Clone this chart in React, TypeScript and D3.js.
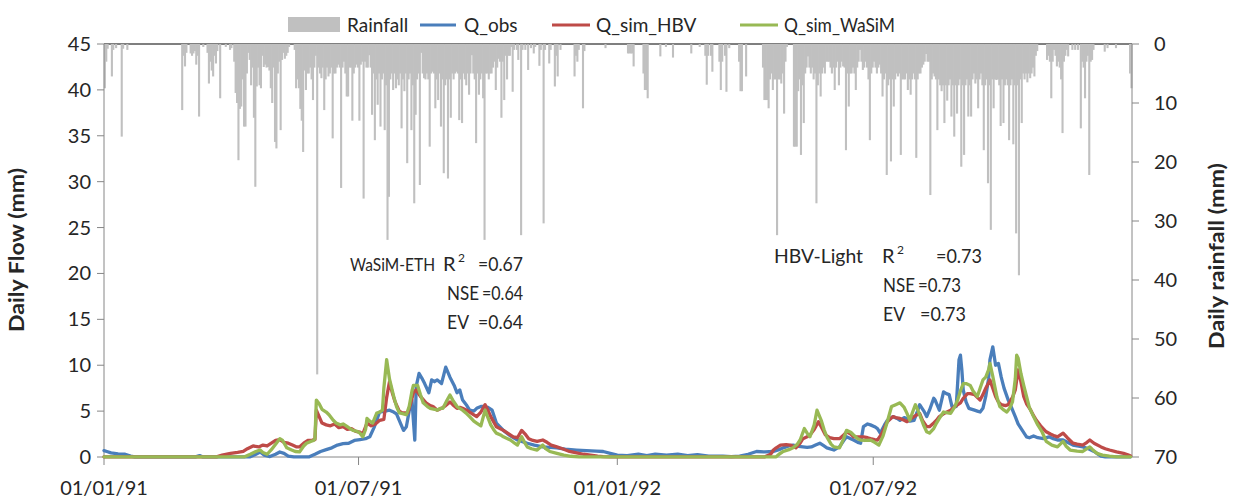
import React from 'react';
import * as d3 from 'd3';

const xTickDays = [0, 181, 365, 547];
const xTickLabels = ['01/01/91', '01/07/91', '01/01/92', '01/07/92'];
const flowTicks = [0, 5, 10, 15, 20, 25, 30, 35, 40, 45];
const rainTicks = [0, 10, 20, 30, 40, 50, 60, 70];

// [day since 01/01/91, mm]
const rainfall: [number, number][] = [
  [0,7.5],[1,3],[2,0.8],[5,5.5],[6,1],[8,0.7],[12,15.7],[13,0.8],[16,1],
  [55,11.2],[56,2],[57,3.8],[58,1.5],[61,1.6],[62,2],[63,1.6],[64,1.2],[65,3.5],[66,2],[67,12.3],[70,0.5],[73,1.5],[74,6.7],[75,3],[76,4.5],[77,5.5],[78,2],[79,3.3],[80,1.2],[82,9.2],[86,0.5],[89,1],[90,0.7],
  [92,3],[93,8.3],[94,10],[95,19.7],[96,11],[97,10.6],[98,6],[99,14],[100,14],[101,5],[102,1.5],[103,2.7],[104,7],[105,4],[106,12.5],[107,24.2],[108,7.2],[109,4],[110,7],[111,7.5],[112,2],[113,3.9],[114,3.5],[115,4],[116,3.9],[117,4.5],[118,7.5],[119,10],[120,4],[121,16.6],[122,17.7],[123,5],[124,3],[125,14.6],[126,2.7],[127,1.5],[128,2.5],[129,2],[130,1.5],[131,0.5],
  [135,1],[136,7.5],[137,6],[138,7.5],[139,11],[140,13],[141,18.3],[142,4.5],[143,7.8],[144,5],[145,5],[146,4],[147,6],[148,9.5],[149,4],[150,2],[151,56],[152,4],[153,5],[154,5.8],[155,4],[156,11.2],[157,6],[158,4],[159,5.5],[160,5],[161,4],[162,16],[163,5],[164,5],[165,4],[166,3.5],[167,4],[168,24.4],[169,4],[170,3],[171,5],[172,8.9],[173,8.9],[174,4],[175,4],[176,13],[177,5],[178,4],[179,3.5],[180,4],[181,13],[182,3.5],[183,3],[184,26.2],[185,3],[186,4],[187,4],[188,1.9],[189,4],
  [190,12],[191,5],[192,16.3],[193,6],[194,10.3],[195,5],[196,14],[197,6],[198,5],[199,14.6],[200,7],[201,33.2],[202,25.9],[203,6],[204,5],[205,7.8],[206,5],[207,7.5],[208,6],[209,7],[210,5],[211,14.3],[212,6],[213,8],[214,5],[215,20.2],[216,6],[217,5],[218,14.6],[219,7],[220,27],[221,12],[222,6],[223,5],[224,23.9],[225,1.5],[226,5],[227,5.8],[228,6],[229,5],[230,6],[231,17.4],[232,5],[233,4.7],[234,5],[235,10.9],[236,6],[237,9.5],[238,5],[239,14],[240,6],[241,21.9],[242,7],[243,6],[244,22.8],[245,6],[246,12.5],[247,5],[248,6],[249,5],[250,4.7],[251,5],[252,12.9],[253,6],[254,13.4],[255,5],[256,6],[257,7],[258,5],[259,8.6],[260,5],[261,1.9],[262,5],[263,6],[264,16.8],[265,5],[266,8.6],[267,6],[268,5],[269,9.2],[270,33.2],[271,5],[272,5],[273,6],[274,5],[275,5],[276,4],[277,3],[278,7.8],[279,4],[280,2.5],[281,3],[282,12.5],[283,3],[284,9.5],[285,2],[286,6],[287,2],[288,2],[289,0.5],[290,8.1],[291,1],[293,1],[294,2.7],[296,32.4],[297,1],[299,1],[301,4.4],[303,0.7],[305,1.6],[306,0.5],[309,3.7],[310,1],[312,30.4],[313,1],[316,3.3],[317,1],[320,7.2],[321,2],[322,5.5],[324,1],[334,5.5],[335,2],[336,3],[337,1],[340,10.9],[341,1.2],[356,0.7],
  [372,1.6],[373,1.6],[374,1.6],[375,1.6],[376,3.8],[383,5],[384,7.8],[385,7.8],[386,9.2],[395,2.1],[399,0.5],[404,2.3],[417,1.6],[423,0.5],[427,2],[428,6.9],[429,2],[431,2],[432,4.7],[437,3],[438,7.8],[439,3],[441,2],[442,8.1],[444,0.7],[451,3],[452,8],[453,8],[456,5.5],
  [468,4],[469,9.5],[470,9.5],[471,9.5],[472,10.9],[473,6],[474,5],[475,7.8],[476,6],[477,6],[478,32.4],[479,6],[480,6],[481,6.7],[482,5],[483,11.8],[484,3],[485,0.5],
  [490,17.4],[491,17.4],[492,17.4],[493,8],[494,6],[495,18.8],[496,7],[497,13.4],[498,5],[499,4],[500,2.1],[501,4],[502,5],[503,4],[504,6],[505,5],[506,27],[507,7],[508,5],[509,8.9],[510,5],[511,4],[512,5],[513,3],[514,3],[515,3],[516,4],[517,5],[518,4],[519,7.8],[520,4],[521,3],[522,7],[523,4],[524,3],[525,3.8],[526,4],[527,18],[528,5],[529,10.6],[530,5],[531,5],[532,4],[533,5],[534,7.8],[535,4],[536,3],[537,1],[538,3],[539,4.4],[540,4],[541,3],[542,4],[543,6],[544,16.3],[545,5],[546,4],[547,3],[548,4],[549,5],[550,4],[551,3.5],[552,5],[553,8.9],[554,6],[555,5],[556,22.2],[557,7],[558,6],[559,19.9],[560,6],[561,10.6],[562,6],[563,5],[564,5.5],[565,5],[566,18.8],[567,6],[568,6],[569,6],[570,5],[571,7.8],[572,6],[573,8.6],[574,6],[575,5],[576,6],[577,19.3],[578,6],[579,5],[580,5],[581,4],[582,3.5],[583,3],[584,1.7],[585,3],[586,3],[587,25.6],[588,6],[589,5],[590,5.5],[591,6],[592,14.6],[593,6],[594,7],[595,8],[596,7],[597,13.4],[598,7],[599,9.6],[600,7],[601,6],[602,12.3],[603,7],[604,15.7],[605,7],[606,11.8],[607,7],[608,6],[609,20.8],[610,7],[611,18.8],[612,7],[613,6],[614,12.3],[615,7],[616,12.3],[617,6],[618,5],[619,6.7],[620,6],[621,10.9],[622,6],[623,5],[624,7],[625,18],[626,7],[627,6],[628,23.6],[629,7],[630,31.5],[631,6],[632,10.9],[633,6],[634,6.1],[635,6],[636,7],[637,13.9],[638,6],[639,13.4],[640,7],[641,6],[642,7],[643,16.3],[644,7],[645,6],[646,17],[647,7],[648,32.1],[649,7],[650,39.2],[651,6],[652,13.4],[653,5],[654,6],[655,5],[656,6.5],[657,5],[658,5.8],[659,5],[660,4],[661,5.5],[662,2],[663,1.2],
  [670,2.7],[671,2],[672,3],[673,9.2],[674,3],[675,1],[676,2],[677,3.8],[678,3],[679,4],[680,6],[681,15.1],[682,3],[683,2],[684,1],[685,2.1],[688,1],[690,1],[692,1],[694,14.3],[695,3],[696,4],[697,9.2],[698,3],[699,2],[700,22.2],[701,3],[702,2.7],[703,1],[711,1.3],[713,0.7],[719,0.7],[729,5],[730,7.5],
];

const qObs: [number, number][] = [
  [0,0.7],[2,0.6],[5,0.45],[10,0.35],[15,0.3],[19,0.1],[22,0.02],[65,0.02],[68,0.15],[70,0.02],[104,0.02],[108,0.3],[111,0.55],[114,0.2],[118,0.05],[122,0.3],[125,0.55],[128,0.4],[131,0.1],[135,0.02],[146,0.02],[150,0.3],[154,0.6],[158,0.8],[162,1.0],[166,1.3],[170,1.45],[174,1.5],[178,1.8],[182,1.9],[186,2.0],[189,2.2],[192,3.2],[196,4.9],[200,5.0],[203,5.1],[206,4.9],[208,4.7],[211,3.6],[213,2.9],[215,3.3],[217,5.0],[219,6.2],[220,4],[221,1.85],[222,7.7],[224,9.1],[226,8.6],[228,8.0],[231,7.0],[233,8.4],[235,8.2],[237,8.4],[240,8.0],[243,9.8],[246,8.7],[249,7.8],[251,7.0],[253,7.3],[255,6.2],[258,5.6],[260,5.1],[263,5.0],[265,5.3],[268,5.5],[270,5.5],[273,5.4],[276,5.1],[279,3.7],[284,2.9],[289,2.3],[294,1.85],[297,1.7],[301,1.5],[306,1.3],[312,1.1],[317,1.05],[322,1.0],[328,0.85],[336,0.76],[343,0.7],[350,0.65],[355,0.6],[360,0.4],[365,0.2],[372,0.15],[380,0.3],[386,0.15],[392,0.3],[400,0.2],[408,0.3],[415,0.15],[422,0.25],[430,0.1],[440,0.1],[446,0.05],[452,0.1],[458,0.3],[464,0.6],[470,0.55],[476,0.6],[480,0.8],[483,1.0],[487,1.2],[490,1.3],[494,1.15],[497,1.1],[500,1.05],[503,1.1],[506,1.3],[509,1.5],[512,1.2],[514,1.0],[519,0.76],[523,1.1],[526,1.8],[528,2.2],[531,2.0],[533,1.85],[536,1.6],[538,1.5],[540,3.3],[543,3.6],[545,3.5],[548,3.3],[550,3.1],[552,2.6],[555,3.5],[557,4.0],[561,4.4],[564,4.2],[566,4.0],[569,4.3],[571,4.2],[573,3.9],[576,4.0],[578,4.8],[580,5.7],[583,5.0],[585,4.4],[587,5.1],[590,6.4],[591,6.2],[594,5.1],[597,7.1],[599,6.9],[601,6.8],[603,5.5],[606,5.5],[607,8],[608,10.6],[609,11.1],[610,9.5],[611,7.3],[613,6.0],[615,5.3],[619,5.1],[621,5.0],[623,4.9],[625,5.3],[627,6.6],[629,8.5],[630,10.6],[632,12.0],[634,10.0],[636,10.2],[638,8.7],[640,7.5],[643,6.2],[645,5.5],[648,4.4],[650,3.6],[653,2.9],[656,2.2],[658,2.1],[661,2.3],[664,2.1],[668,2.0],[672,2.2],[675,2.0],[678,1.85],[682,1.85],[685,1.6],[689,1.3],[692,1.2],[696,1.1],[700,0.9],[704,0.6],[707,0.3],[709,0.1],[712,0.02],[730,0.02],
];

const qHBV: [number, number][] = [
  [0,0.02],[80,0.02],[84,0.2],[90,0.4],[95,0.5],[99,0.6],[102,0.9],[106,1.2],[110,1.1],[113,1.3],[116,1.2],[119,1.5],[122,1.8],[125,1.9],[128,1.6],[131,1.5],[134,1.3],[137,1.1],[139,1.1],[142,1.5],[145,1.8],[148,1.85],[150,1.9],[151,5.1],[153,4.4],[155,3.7],[158,3.5],[161,3.4],[164,3.6],[167,3.2],[170,3.3],[173,3.0],[176,3.1],[179,2.8],[182,2.7],[184,2.5],[187,3.7],[190,3.4],[193,3.6],[196,4.0],[199,4.1],[201,6.5],[203,8.2],[205,7.0],[207,6.0],[210,5.0],[212,4.8],[216,4.8],[218,5.8],[220,7.0],[222,7.3],[225,6.6],[229,5.9],[232,5.6],[234,5.5],[237,5.1],[240,5.3],[243,5.6],[246,6.0],[248,5.7],[251,5.3],[253,5.4],[255,5.3],[258,5.1],[260,4.9],[263,4.6],[265,4.4],[268,4.9],[271,5.7],[273,5.1],[275,4.4],[279,3.3],[284,2.9],[287,2.6],[291,2.2],[294,2.1],[297,2.9],[300,2.4],[302,2.0],[305,1.8],[308,1.7],[312,1.85],[315,1.6],[318,1.3],[322,1.1],[326,0.9],[331,0.6],[336,0.45],[341,0.3],[346,0.2],[351,0.1],[355,0.05],[360,0.02],[470,0.02],[474,0.3],[476,0.76],[478,1.0],[481,1.3],[485,1.35],[488,1.3],[492,1.0],[495,1.5],[497,2.0],[500,2.2],[502,2.4],[505,3.0],[508,3.85],[510,3.3],[513,2.4],[516,2.1],[519,2.0],[523,2.0],[526,2.4],[528,2.75],[531,2.5],[533,2.2],[537,2.2],[540,2.2],[543,2.1],[545,2.0],[548,1.9],[550,1.85],[553,2.5],[557,3.85],[561,4.4],[563,4.3],[566,4.2],[569,4.0],[571,3.85],[573,4.1],[576,4.4],[578,4.6],[580,4.75],[582,4.0],[585,3.3],[587,3.3],[590,3.7],[592,4.0],[594,4.4],[598,4.8],[602,5.1],[605,5.5],[609,5.9],[611,6.4],[614,6.9],[616,6.9],[619,6.8],[621,6.5],[623,6.2],[625,6.8],[627,7.5],[630,8.4],[632,7.5],[634,6.6],[636,6.0],[638,5.7],[641,5.6],[643,5.7],[646,6.5],[648,7.3],[650,9.5],[652,8.2],[654,6.6],[656,5.8],[659,5.1],[661,4.5],[663,4.0],[666,3.4],[670,2.75],[673,2.5],[676,2.3],[678,2.2],[682,2.6],[685,2.1],[689,1.5],[692,1.4],[696,1.3],[699,1.6],[701,1.85],[704,1.5],[709,1.1],[712,0.9],[715,0.76],[720,0.55],[725,0.4],[728,0.25],[730,0.1],
];

const qWaSiM: [number, number][] = [
  [0,0.02],[100,0.02],[104,0.3],[108,0.6],[111,0.76],[113,0.5],[116,0.3],[119,0.8],[122,1.4],[125,2.0],[127,1.8],[130,1.0],[133,0.8],[136,0.6],[139,0.55],[142,1.2],[144,1.5],[147,1.7],[149,1.8],[150,2.0],[151,6.2],[153,5.8],[155,5.2],[158,4.9],[160,4.6],[163,4.0],[165,3.7],[168,3.5],[170,3.6],[173,3.3],[175,3.1],[177,2.9],[180,2.8],[182,2.6],[184,2.2],[186,3.0],[187,4.2],[189,3.9],[191,3.7],[194,4.8],[196,4.9],[198,5.1],[199,7.5],[201,10.6],[203,8.5],[206,6.6],[208,5.5],[210,4.8],[213,4.7],[215,4.6],[217,5.5],[219,7.2],[220,7.8],[223,7.8],[225,6.8],[227,5.9],[230,5.5],[232,5.3],[235,5.2],[237,5.1],[239,5.3],[241,5.3],[244,6.2],[246,6.75],[248,6.2],[251,5.5],[253,5.3],[255,5.1],[258,4.7],[260,4.4],[263,3.9],[265,3.7],[268,3.4],[271,5.1],[273,4.3],[275,3.5],[277,3.0],[279,2.6],[282,2.4],[284,2.2],[287,2.0],[289,1.85],[292,1.5],[294,1.3],[297,2.2],[299,1.6],[301,1.1],[304,0.9],[308,0.76],[312,1.3],[314,0.9],[317,0.6],[322,0.4],[327,0.2],[332,0.08],[338,0.02],[478,0.02],[480,0.3],[483,0.6],[487,0.8],[490,1.0],[493,1.4],[495,1.85],[498,3.1],[500,2.6],[502,2.2],[505,3.5],[507,5.1],[510,4.0],[512,3.0],[514,2.2],[517,1.4],[519,1.1],[523,1.0],[526,2.0],[528,2.9],[531,2.7],[533,2.4],[536,2.0],[538,1.85],[541,1.8],[545,1.85],[548,1.6],[551,1.3],[554,2.3],[557,3.85],[560,5.5],[563,5.7],[566,5.9],[569,5.4],[571,4.75],[573,4.0],[575,4.9],[577,5.7],[579,5.0],[581,4.2],[583,3.4],[585,2.75],[587,2.6],[590,3.1],[592,3.7],[594,4.2],[597,4.9],[600,4.8],[602,4.75],[605,5.5],[607,6.2],[609,7.2],[611,8.0],[613,8.0],[616,7.8],[618,7.2],[621,6.6],[623,7.5],[625,8.4],[627,8.7],[629,9.5],[630,10.2],[632,8.8],[633,8.0],[635,6.5],[637,5.5],[640,5.1],[642,4.9],[644,5.3],[646,6.0],[648,8.5],[649,11.1],[650,10.8],[652,9.1],[654,7.8],[656,6.6],[658,5.4],[661,4.4],[664,3.5],[667,2.75],[670,1.7],[674,1.3],[678,1.1],[680,1.4],[682,1.7],[684,1.2],[687,0.76],[692,0.65],[696,0.6],[699,0.9],[701,1.1],[703,0.8],[706,0.4],[710,0.2],[715,0.1],[720,0.02],[730,0.02],
];

const seriesNames = ['Rainfall', 'Q_obs', 'Q_sim_HBV', 'Q_sim_WaSiM'];
const seriesColors = ['#c0c0c0', '#4a7ebb', '#be4b48', '#98b954'];

const FONT = 'Lato, "Open Sans", sans-serif';
const TXT = '#262626';

export default function App() {
  const W = 1238, H = 501;
  const L = 104, R = 1132, T = 44, B = 457;
  const x = d3.scaleLinear().domain([0, 731]).range([L, R]);
  const yF = d3.scaleLinear().domain([0, 45]).range([B, T]);
  const yR = d3.scaleLinear().domain([0, 70]).range([T, B]);
  const line = d3.line<[number, number]>().x(d => x(d[0])).y(d => yF(d[1])).curve(d3.curveLinear);
  const bw = x(1) - x(0);

  const lines: [[number, number][], string][] = [
    [qObs, seriesColors[1]],
    [qHBV, seriesColors[2]],
    [qWaSiM, seriesColors[3]],
  ];

  return (
    <svg width={W} height={H} style={{ position: 'absolute', left: 0, top: 0, background: '#fff' }} fontFamily={FONT}>
      <rect width={W} height={H} fill="#fff" />
      {/* top zero line of rainfall axis */}
      <line x1={L} x2={R} y1={T} y2={T} stroke="#000" strokeWidth={1.2} />
      {/* rainfall bars */}
      <g fill={seriesColors[0]}>
        {rainfall.map(([d, v]) => (
          <rect key={d} x={x(d) - 0.2} y={yR(0)} width={bw + 0.7} height={yR(v) - yR(0)} />
        ))}
      </g>
      {/* axes */}
      <g stroke="#868686" strokeWidth={1}>
        <line x1={L} x2={L} y1={T} y2={B} />
        <line x1={R} x2={R} y1={T} y2={B} />
        <line x1={L} x2={R} y1={B} y2={B} />
        {flowTicks.map(t => <line key={'fl' + t} x1={L - 7} x2={L} y1={yF(t)} y2={yF(t)} />)}
        {rainTicks.map(t => <line key={'rl' + t} x1={R} x2={R + 7} y1={yR(t)} y2={yR(t)} />)}
        {xTickDays.map(d => <line key={'xt' + d} x1={x(d)} x2={x(d)} y1={B} y2={B + 8} />)}
      </g>
      {/* flow lines */}
      <g fill="none" strokeWidth={3.3} strokeLinejoin="round" strokeLinecap="round">
        {lines.map(([data, c], i) => (
          <path key={i} d={line(data) || ''} stroke={c} />
        ))}
      </g>
      {/* tick labels */}
      <g fontSize={20} fill={TXT}>
        {flowTicks.map(t => (
          <text key={'ft' + t} x={L - 13} y={yF(t)} dy="0.35em" textAnchor="end">{t}</text>
        ))}
        {rainTicks.map(t => (
          <text key={'rt' + t} x={R + 22} y={yR(t)} dy="0.35em" textAnchor="start">{t}</text>
        ))}
        {xTickDays.map((d, i) => (
          <text key={'xl' + d} x={x(d)} y={B + 38} textAnchor="middle">{xTickLabels[i]}</text>
        ))}
      </g>
      {/* axis titles */}
      <text transform={`translate(24,250) rotate(-90)`} textAnchor="middle" fontSize={20} fontWeight="bold" fill={TXT} textLength={164} lengthAdjust="spacingAndGlyphs">Daily Flow (mm)</text>
      <text transform={`translate(1224,256) rotate(-90)`} textAnchor="middle" fontSize={20} fontWeight="bold" fill={TXT} textLength={186} lengthAdjust="spacingAndGlyphs">Daily rainfall (mm)</text>
      {/* legend */}
      <g fontSize={19} fill={TXT}>
        <rect x={288} y={17} width={52} height={15} fill={seriesColors[0]} />
        <text x={347} y={25} dy="0.35em">{seriesNames[0]}</text>
        <line x1={420} x2={456} y1={25} y2={25} stroke={seriesColors[1]} strokeWidth={3} />
        <text x={464} y={25} dy="0.35em">{seriesNames[1]}</text>
        <line x1={552} x2={590} y1={25} y2={25} stroke={seriesColors[2]} strokeWidth={3} />
        <text x={596} y={25} dy="0.35em">{seriesNames[2]}</text>
        <line x1={740} x2={778} y1={25} y2={25} stroke={seriesColors[3]} strokeWidth={3} />
        <text x={784} y={25} dy="0.35em" textLength={111} lengthAdjust="spacingAndGlyphs">{seriesNames[3]}</text>
      </g>
      {/* annotations */}
      <g fontSize={20} fill={TXT}>
        <text x={350} y={271} fontSize={17} textLength={85} lengthAdjust="spacingAndGlyphs">WaSiM-ETH</text>
        <text x={443} y={271}>R</text>
        <text x={458} y={262} fontSize={12}>2</text>
        <text x={478} y={271} textLength={45} lengthAdjust="spacingAndGlyphs">=0.67</text>
        <text x={447} y={300} textLength={32} lengthAdjust="spacingAndGlyphs">NSE</text>
        <text x={482} y={300} textLength={41} lengthAdjust="spacingAndGlyphs">=0.64</text>
        <text x={447} y={329} textLength={22} lengthAdjust="spacingAndGlyphs">EV</text>
        <text x={478} y={329} textLength={45} lengthAdjust="spacingAndGlyphs">=0.64</text>

        <text x={774} y={263} textLength={89} lengthAdjust="spacingAndGlyphs">HBV-Light</text>
        <text x={882} y={263}>R</text>
        <text x={897} y={254} fontSize={12}>2</text>
        <text x={936} y={263} textLength={46} lengthAdjust="spacingAndGlyphs">=0.73</text>
        <text x={883} y={292} textLength={32} lengthAdjust="spacingAndGlyphs">NSE</text>
        <text x={918} y={292} textLength={43} lengthAdjust="spacingAndGlyphs">=0.73</text>
        <text x={883} y={321} textLength={22} lengthAdjust="spacingAndGlyphs">EV</text>
        <text x={920} y={321} textLength={46} lengthAdjust="spacingAndGlyphs">=0.73</text>
      </g>
    </svg>
  );
}
